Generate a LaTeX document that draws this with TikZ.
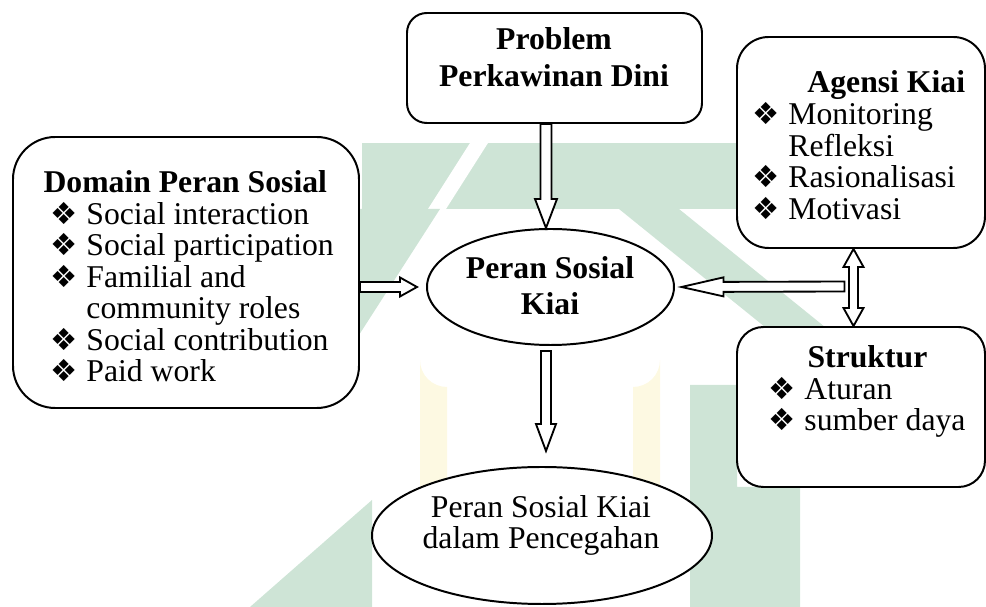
\documentclass[tikz,border=0pt]{standalone}
\usepackage{fontspec}
\setmainfont{Liberation Serif}
\newfontfamily\djv{DejaVu Sans}
\usetikzlibrary{calc,shapes.geometric}
\definecolor{wmgreen}{RGB}{206,228,214}
\definecolor{wmyellow}{RGB}{253,249,226}
\newcommand\bul{\makebox[13.6pt][l]{\djv\fontsize{11.5}{11.5}\selectfont ❖}}
% hollow block arrow: #1 start, #2 tip, #3 half shaft, #4 half head, #5 head length
\newcommand\hollowarr[5]{%
  \coordinate (hh) at ($(#2)!#5!(#1)$);
  \draw[arrline] ($(#1)!#3!90:(#2)$) -- ($(hh)!#3!90:(#2)$) -- ($(hh)!#4!90:(#2)$) -- (#2)
    -- ($(hh)!#4!-90:(#2)$) -- ($(hh)!#3!-90:(#2)$) -- ($(#1)!#3!-90:(#2)$) -- cycle;}
% double-headed hollow block arrow
\newcommand\hollowdarr[5]{%
  \coordinate (ha) at ($(#1)!#5!(#2)$);
  \coordinate (hb) at ($(#2)!#5!(#1)$);
  \draw[arrline] (#1) -- ($(ha)!#4!90:(#2)$) -- ($(ha)!#3!90:(#2)$) -- ($(hb)!#3!90:(#2)$)
    -- ($(hb)!#4!90:(#2)$) -- (#2) -- ($(hb)!#4!-90:(#2)$) -- ($(hb)!#3!-90:(#2)$)
    -- ($(ha)!#3!-90:(#2)$) -- ($(ha)!#4!-90:(#2)$) -- cycle;}
\begin{document}
\begin{tikzpicture}[x=0.3786pt,y=-0.3786pt,
  box/.style={draw, line width=0.75pt, fill=white, inner sep=0pt},
  oval/.style={ellipse, draw, line width=0.75pt, fill=white, inner sep=0pt},
  txt/.style={inner sep=0pt, font=\fontsize{12}{11.8}\selectfont},
  arrline/.style={draw, fill=white, line width=0.7pt, line join=miter},
  wm/.style={fill=wmgreen, draw=none},
  wmy/.style={fill=wmyellow, draw=none}]
\useasboundingbox (0,0) rectangle (986,607);

% faint watermark in the background
\fill[wm] (362,143) -- (737,143) -- (737,209) -- (362,209) -- cycle;
\fill[white] (470,143) -- (488,143) -- (446,209) -- (428,209) -- cycle;
\fill[wm] (359,209) -- (440,209) -- (359,335) -- cycle;
\fill[wm] (619,209) -- (679,209) -- (940,420) -- (880,420) -- cycle;
\fill[wm] (690,385) -- (737,385) -- (737,487) -- (800,487) -- (800,607) -- (690,607) -- cycle;
\fill[wm] (250,607) -- (372,500) -- (372,607) -- cycle;
\fill[wmy] (420,360) arc[start angle=180, end angle=90, radius=27] -- (447,490) -- (420,490) -- cycle;
\fill[wmy] (660,360) arc[start angle=0, end angle=90, radius=27] -- (633,490) -- (660,490) -- cycle;

% boxes and ovals
\node[box, rounded corners=16pt, minimum width={346*0.3786pt}, minimum height={271*0.3786pt}] (domain) at (186,272.5) {};
\node[box, rounded corners=7.5pt, minimum width={295*0.3786pt}, minimum height={110*0.3786pt}] (ptop) at (554.5,68) {};
\node[box, rounded corners=12pt, minimum width={248*0.3786pt}, minimum height={211*0.3786pt}] (agensi) at (861,142.5) {};
\node[box, rounded corners=10pt, minimum width={248*0.3786pt}, minimum height={160*0.3786pt}] (struktur) at (861,407) {};
\node[oval, minimum width={247*0.3786pt}, minimum height={116*0.3786pt}] (kiai) at (550.5,287) {};
\node[oval, minimum width={340*0.3786pt}, minimum height={137*0.3786pt}] (hasil) at (542,535.5) {};

% texts
\node[txt, anchor=base west] (domaintxt) at (50,193) {\begin{tabular}[t]{@{}l@{}l@{}}
\multicolumn{2}{@{}l@{}}{\hspace{-2.65pt}\textbf{Domain Peran Sosial}}\\
\bul & Social interaction\\
\bul & Social participation\\
\bul & Familial and\\
 & community roles\\
\bul & Social contribution\\
\bul & Paid work
\end{tabular}};
\node[txt, anchor=base west] (agensitxt) at (752,93) {\begin{tabular}[t]{@{}l@{}l@{}}
\multicolumn{2}{@{}l@{}}{\hspace{20.8pt}\textbf{Agensi Kiai}}\\
\bul & Monitoring\\
 & Refleksi\\
\bul & Rasionalisasi\\
\bul & Motivasi
\end{tabular}};
\node[txt, anchor=base west] (strukturtxt) at (768,368) {\begin{tabular}[t]{@{}l@{}l@{}}
\multicolumn{2}{@{}l@{}}{\hspace{14.8pt}\textbf{Struktur}}\\
\bul & Aturan\\
\bul & sumber daya
\end{tabular}};
\node[txt, anchor=base, align=center, font=\bfseries\fontsize{12}{14.2}\selectfont] (ptoptxt) at (554,87) {Problem\\Perkawinan Dini};
\node[txt, anchor=base, align=center, font=\bfseries\fontsize{12}{14}\selectfont] (kiaitxt) at (550,315) {Peran Sosial\\Kiai};
\node[txt, anchor=base, align=center, font=\fontsize{12}{12.1}\selectfont] (hasiltxt) at (541,549) {Peran Sosial Kiai\\dalam Pencegahan};

% connectors
\coordinate (a1s) at ($(ptop.south)+(-8.5,0)$);
\coordinate (a1e) at (kiai.north -| a1s);
\hollowarr{a1s}{a1e}{2.08pt}{4.16pt}{10.98pt}

\coordinate (a2s) at ($(kiai.south)+(-4.5,5)$);
\coordinate (a2e) at ($(hasil.north)+(4,-15)$);
\hollowarr{a2s}{a2e}{1.89pt}{3.79pt}{10.22pt}

\coordinate (a3s) at (domain.east |- kiai.west);
\coordinate (a3e) at ($(kiai.west)+(-9,0)$);
\hollowarr{a3s}{a3e}{1.89pt}{3.6pt}{6.44pt}

\coordinate (d1) at ($(agensi.south)+(-7.5,0)$);
\coordinate (d2) at (struktur.north -| d1);
\coordinate (dm) at ($(d1)!0.5!(d2)$);
\hollowdarr{d1}{d2}{1.7pt}{3.79pt}{6.81pt}

\coordinate (a4s) at ($(dm)+(-9,-1)$);
\coordinate (a4e) at ($(kiai.east)+(6.5,0)$);
\hollowarr{a4s}{a4e}{1.89pt}{3.6pt}{15.9pt}
\end{tikzpicture}
\end{document}
